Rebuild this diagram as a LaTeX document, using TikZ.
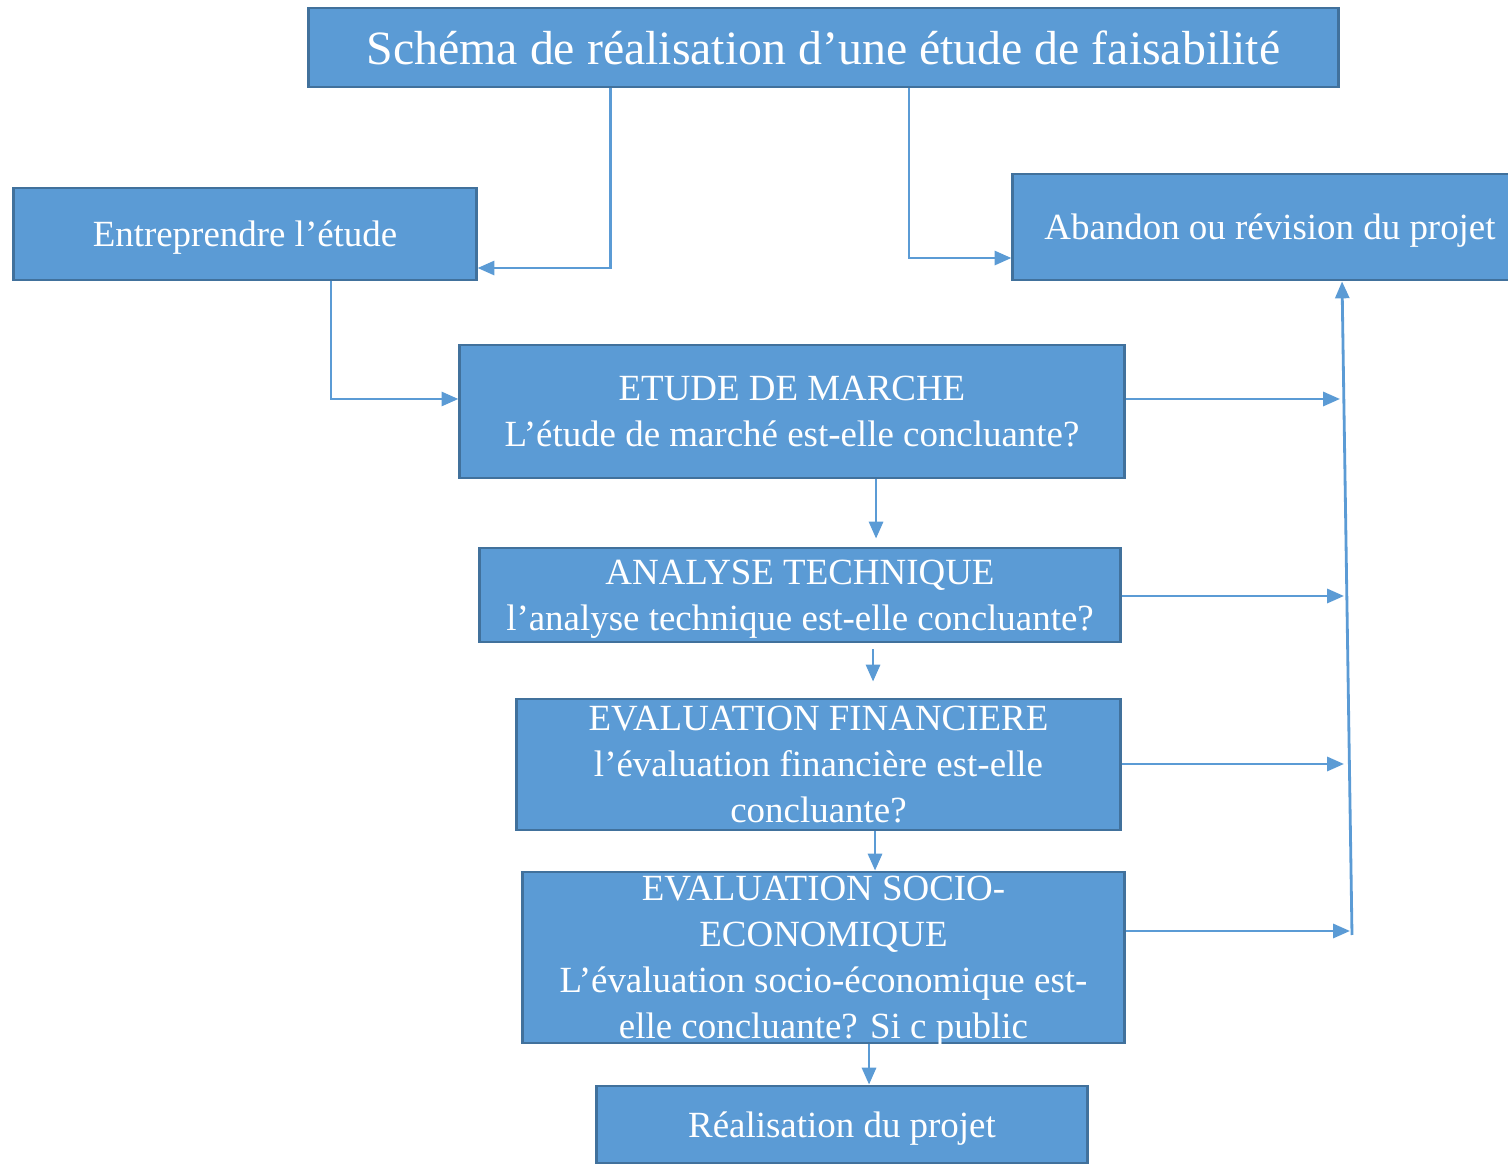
\documentclass[tikz,border=0pt]{standalone}
\usepackage{fontspec}
\setmainfont{Liberation Serif}
\usetikzlibrary{arrows.meta}
\definecolor{boxfill}{HTML}{5B9BD5}
\definecolor{boxline}{HTML}{41719C}

\begin{document}
\begin{tikzpicture}[x=0.01cm, y=-0.01cm, >={Triangle[length=4.8pt,width=4pt]}]
	\tikzstyle{boite} = [rectangle, draw=boxline, line width=0.8pt, fill=boxfill, text=white, align=center, inner sep=0pt, text depth=0pt, font=\fontsize{10.5}{13.1}\selectfont]
	\tikzstyle{fleche} = [draw=boxfill, line width=0.8pt, ->, color=boxfill]
	\useasboundingbox (0,0) rectangle (1508,1164);
	\node[boite, minimum width=10.29cm, minimum height=0.79cm, font=\fontsize{13.6}{16}\selectfont] (titre) at (823.5,47.5) {Schéma de réalisation d’une étude de faisabilité};
	\node[boite, minimum width=4.62cm, minimum height=0.92cm] (entre) at (245,234) {Entreprendre l’étude};
	\node[boite, minimum width=5.14cm, minimum height=1.06cm] (abandon) at (1270,227) {Abandon ou révision du projet};
	\node[boite, minimum width=6.64cm, minimum height=1.33cm] (marche) at (792,411.5) {ETUDE DE MARCHE\\L’étude de marché est-elle concluante?};
	\node[boite, minimum width=6.40cm, minimum height=0.94cm] (tech) at (800,595) {ANALYSE TECHNIQUE\\l’analyse technique est-elle concluante?};
	\node[boite, minimum width=6.03cm, minimum height=1.31cm] (fin) at (818.5,764.5) {EVALUATION FINANCIERE\\l’évaluation financière est-elle\\concluante?};
	\node[boite, minimum width=6.01cm, minimum height=1.71cm] (socio) at (823.5,957.5) {EVALUATION SOCIO-\\ECONOMIQUE\\L’évaluation socio-économique est-\\elle concluante? Si c public};
	\node[boite, minimum width=4.90cm, minimum height=0.77cm] (real) at (842,1124.5) {Réalisation du projet};
	% points sur la ligne de retour
	\coordinate (r1) at (1340,399);
	\coordinate (r2) at (1344,596);
	\coordinate (r3) at (1344,764);
	\coordinate (r4) at (1350,931);
	\coordinate (bas) at (1352,935);
	\draw [fleche] ([xshift=-2.125cm]titre.south) |- ([yshift=-0.34cm]entre.east);
	\draw [fleche] ([xshift=0.855cm]titre.south) |- ([yshift=-0.31cm]abandon.west);
	\draw [fleche] ([xshift=0.86cm]entre.south) |- ([yshift=0.125cm]marche.west);
	\draw [fleche, shorten >=0.08cm] ([xshift=0.84cm]marche.south) -- ([xshift=0.84cm]marche.south |- tech.north);
	\draw [fleche, shorten <=0.06cm, shorten >=0.16cm] ([xshift=0.73cm]tech.south) -- ([xshift=0.73cm]tech.south |- fin.north);
	\draw [fleche] ([xshift=0.565cm]fin.south) -- ([xshift=0.565cm]fin.south |- socio.north);
	\draw [fleche] ([xshift=0.455cm]socio.south) -- ([xshift=0.455cm]socio.south |- real.north);
	\draw [fleche] (marche.east |- r1) -- (r1);
	\draw [fleche] (tech.east |- r2) -- (r2);
	\draw [fleche] (fin.east |- r3) -- (r3);
	\draw [fleche] (socio.east |- r4) -- (r4);
	\draw [fleche] (bas) -- ([xshift=0.72cm]abandon.south);
\end{tikzpicture}
\end{document}
